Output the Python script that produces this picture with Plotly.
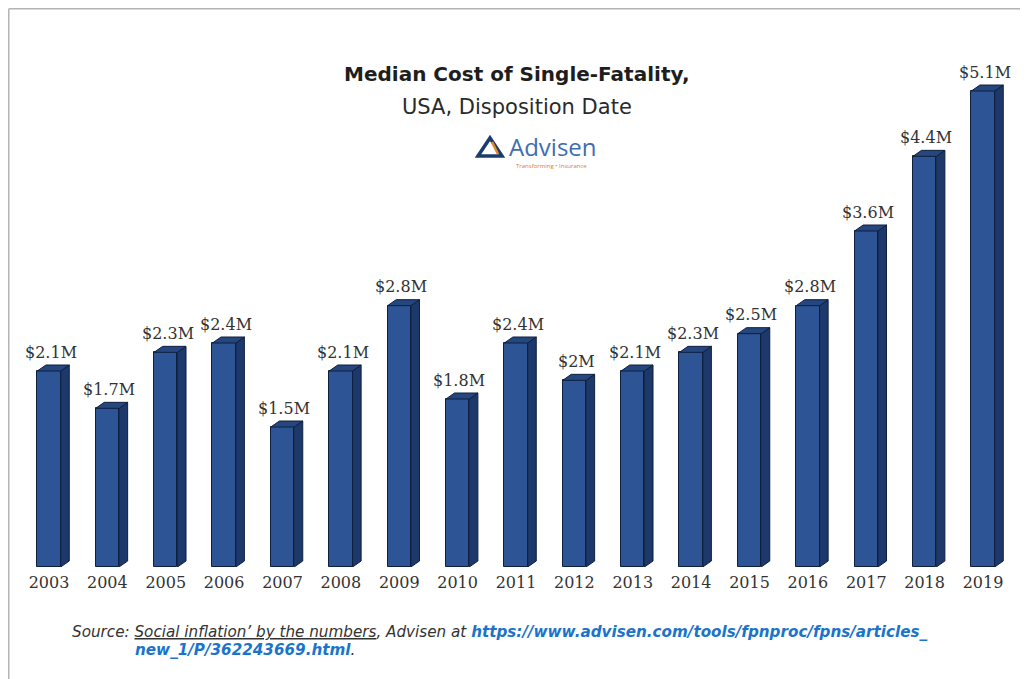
import plotly.graph_objects as go

# ---- data ----
years = ["2003", "2004", "2005", "2006", "2007", "2008", "2009", "2010", "2011",
         "2012", "2013", "2014", "2015", "2016", "2017", "2018", "2019"]
median_cost_musd = [2.1, 1.7, 2.3, 2.4, 1.5, 2.1, 2.8, 1.8, 2.4,
                    2.0, 2.1, 2.3, 2.5, 2.8, 3.6, 4.4, 5.1]
value_labels = [f"${v:g}M" for v in median_cost_musd]

title_text = "Median Cost of Single-Fatality,"
subtitle_text = "USA, Disposition Date"

# ---- geometry / style ----
OFF = 8                       # page body margin of the html page
W, H = 1028 - OFF, 679 - OFF  # figure size that fits the window
PX_PER_UNIT_Y = 93.33
PX_PER_CAT = 58.375
BASELINE_PAGE = 566.7
FIRST_CAT_PAGE = 49
MT, ML, MR = 0, 0, 0
MB = round(H - (BASELINE_PAGE - OFF))
PLOT_H = H - MT - MB
x0 = -(FIRST_CAT_PAGE - OFF) / PX_PER_CAT
X_RANGE = [x0, x0 + W / PX_PER_CAT]
Y_RANGE = [0, PLOT_H / PX_PER_UNIT_Y]
BAR_W = 0.40
DEPTH_X = 0.147                   # in category units
DEPTH_Y = 6 / PX_PER_UNIT_Y       # in data units

FRONT = "#2d5596"
SIDE = "#1d386b"
TOP = "#25467f"
EDGE = "#0f1f3e"


def pxx(page_x):
    return (page_x - OFF - ML) / (W - ML - MR)


def pxy(page_y):
    return 1 - (page_y - OFF - MT) / PLOT_H


xs = list(range(len(years)))

fig = go.Figure()

# side faces and top faces (pseudo-3D), built from the data
for i, v in zip(xs, median_cost_musd):
    r = i + BAR_W / 2
    l = i - BAR_W / 2
    fig.add_trace(go.Scatter(
        x=[r, r + DEPTH_X, r + DEPTH_X, r, r],
        y=[0, DEPTH_Y, v + DEPTH_Y, v, 0],
        fill="toself", fillcolor=SIDE, mode="lines",
        line=dict(color=EDGE, width=1), hoverinfo="skip", showlegend=False))
    fig.add_trace(go.Scatter(
        x=[l, r, r + DEPTH_X, l + DEPTH_X, l],
        y=[v, v, v + DEPTH_Y, v + DEPTH_Y, v],
        fill="toself", fillcolor=TOP, mode="lines",
        line=dict(color=EDGE, width=1), hoverinfo="skip", showlegend=False))

# front faces
fig.add_trace(go.Bar(
    x=xs, y=median_cost_musd, width=BAR_W,
    marker=dict(color=FRONT, line=dict(color=EDGE, width=1)),
    showlegend=False, hoverinfo="skip"))

# value labels
for i, v, t in zip(xs, median_cost_musd, value_labels):
    fig.add_annotation(x=i + 0.03, y=v, text=t, showarrow=False,
                       yanchor="middle", yshift=19,
                       font=dict(family="DejaVu Serif", size=16, color="#333333"))

annotations_paper = [
    dict(x=pxx(517), y=pxy(74), text=f"<b>{title_text}</b>",
         font=dict(family="DejaVu Sans", size=20, color="#1e1e1e")),
    dict(x=pxx(517), y=pxy(107), text=subtitle_text,
         font=dict(family="DejaVu Sans", size=21, color="#2a2a2a")),
    dict(x=pxx(553), y=pxy(146), text="Advisen",
         font=dict(family="Open Sans", size=24, color="#3f6db0")),
    dict(x=pxx(551), y=pxy(166), text="Transforming \u2022 Insurance",
         font=dict(family="Open Sans", size=6, color="#e07b1a")),
]
for a in annotations_paper:
    fig.add_annotation(xref="paper", yref="paper", showarrow=False,
                       xanchor="center", yanchor="middle", borderpad=0, **a)

link_col = "#1a74cc"
src_font = dict(family="DejaVu Sans", size=15.2, color="#333333")
fig.add_annotation(
    xref="paper", yref="paper", showarrow=False, xanchor="left", yanchor="middle",
    x=pxx(70), y=pxy(632),
    text=("<i>Source: <u>Social inflation\u2019 by the numbers</u>, Advisen at "
          f"<b><span style='color:{link_col}'>https://www.advisen.com/tools/fpnproc/fpns/articles_</span></b></i>"),
    font=src_font)
fig.add_annotation(
    xref="paper", yref="paper", showarrow=False, xanchor="left", yanchor="middle",
    x=pxx(133), y=pxy(650),
    text=f"<i><b><span style='color:{link_col}'>new_1/P/362243669.html</span></b>.</i>",
    font=src_font)

# logo triangle
tx0, tx1, ty0, ty1 = pxx(478), pxx(502), pxy(156), pxy(138)
txm = (tx0 + tx1) / 2
fig.add_shape(type="path", xref="paper", yref="paper",
              path=f"M {tx0} {ty0} L {txm} {ty1} L {tx1} {ty0} Z",
              line=dict(color="#1d3c6e", width=3.5), fillcolor="rgba(0,0,0,0)")
fig.add_shape(type="line", xref="paper", yref="paper",
              x0=pxx(492), y0=pxy(142), x1=pxx(498), y1=pxy(154),
              line=dict(color="#e58a2a", width=2.5))

# outer frame lines (page x=3 is outside the drawable area; draw at its edge)
fig.add_shape(type="line", xref="paper", yref="paper",
              x0=pxx(OFF + 0.75), x1=pxx(1028), y0=pxy(OFF + 0.75), y1=pxy(OFF + 0.75),
              line=dict(color="#b4b4b4", width=1.5))
fig.add_shape(type="line", xref="paper", yref="paper",
              x0=pxx(OFF + 0.75), x1=pxx(OFF + 0.75), y0=pxy(OFF + 0.75), y1=pxy(679),
              line=dict(color="#b4b4b4", width=1.5))

fig.update_layout(
    width=W, height=H,
    margin=dict(l=ML, r=MR, t=MT, b=MB),
    paper_bgcolor="white", plot_bgcolor="white",
    bargap=0,
    xaxis=dict(range=X_RANGE, tickmode="array", tickvals=xs, ticktext=years,
               showgrid=False, zeroline=False, showline=False, ticks="",
               ticklabelstandoff=4,
               tickfont=dict(family="DejaVu Serif", size=16, color="#333333")),
    yaxis=dict(range=Y_RANGE, visible=False, showgrid=False, zeroline=False),
)

fig.write_html("out.html")
